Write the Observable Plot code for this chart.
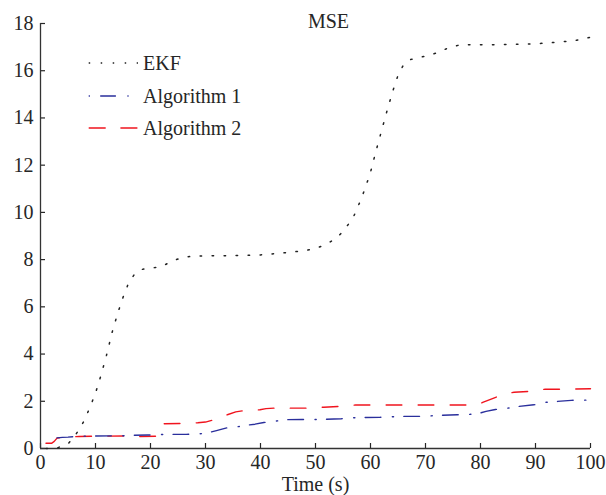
<!DOCTYPE html>
<html><head><meta charset="utf-8">
<script src="https://cdn.jsdelivr.net/npm/d3@7"></script>
<script src="https://cdn.jsdelivr.net/npm/@observablehq/plot@0.6"></script>
<style>
body{margin:0;background:#fff;}
#wrap{position:relative;width:606px;height:495px;}
#wrap svg{position:absolute;left:0;top:0;}
#wrap svg, #wrap svg text{font-family:"Liberation Serif","Times New Roman",serif !important;}
</style></head><body><div id="wrap"></div>
<script>
// ---- data ----
const seriesNames = ["EKF", "Algorithm 1", "Algorithm 2"];
const xTicks = [0, 10, 20, 30, 40, 50, 60, 70, 80, 90, 100];
const yTicks = [0, 2, 4, 6, 8, 10, 12, 14, 16, 18];
const titleText = "MSE";
const xLabel = "Time (s)";

const ekfT = [1,3,5,6,7,8,9,10,11,12,13,14,15,16,17,18,19,20,22,24,26,28,30,35,40,45,48,50,52,54,55,56,57,58,59,60,61,62,63,64,65,66,67,68,70,72,74,76,78,80,85,90,93,95,97.5,100];
const ekfV = [0,0.02,0.2,0.45,0.8,1.2,1.75,2.35,3.1,3.95,4.9,5.7,6.4,7.0,7.35,7.55,7.62,7.64,7.7,7.95,8.1,8.15,8.16,8.17,8.2,8.3,8.38,8.47,8.65,8.95,9.2,9.5,9.86,10.4,11.0,11.7,12.6,13.45,14.3,15.1,15.8,16.25,16.45,16.52,16.62,16.75,16.95,17.08,17.1,17.1,17.11,17.14,17.19,17.23,17.29,17.42];

const alg1T = [3,4,5,6,7,10,15,17,19.5,21.9,23.7,26.5,28.9,30,31,32,33,34,35.8,37.9,39,40.6,42.7,44.7,47.6,50.5,54.7,56.7,58.8,61.7,63.8,66,68.7,70.8,72.9,75.8,77.8,79.9,81,82.7,84.7,86.9,89.7,91.6,93.8,96.5,100];
const alg1V = [0.45,0.47,0.48,0.5,0.52,0.53,0.54,0.56,0.57,0.59,0.6,0.6,0.62,0.65,0.7,0.76,0.82,0.88,0.92,1.0,1.03,1.1,1.16,1.22,1.23,1.23,1.26,1.3,1.31,1.32,1.34,1.36,1.36,1.38,1.41,1.43,1.44,1.5,1.57,1.65,1.7,1.78,1.85,1.95,1.99,2.04,2.05];

const alg2T = [1,2,2.5,3,4,5,6,7,10,15,18,21.2,22.4,25.6,28.6,30,31.3,32.5,34.1,35.5,36.9,38.5,39.9,41,42.6,48.5,51.5,54.2,56,57.3,65,78,79.5,80.4,83.1,84.5,86.1,88.8,90.5,91.8,94.7,100];
const alg2V = [0.22,0.22,0.3,0.44,0.47,0.48,0.5,0.51,0.52,0.53,0.51,0.52,1.05,1.06,1.09,1.12,1.2,1.3,1.44,1.55,1.6,1.62,1.64,1.69,1.71,1.71,1.75,1.78,1.82,1.84,1.84,1.84,1.86,1.95,2.2,2.32,2.38,2.42,2.48,2.51,2.51,2.53];

// ---- styles ----
const FONT = "'Liberation Serif','Times New Roman',serif";
const TXT = "#262626";
const colors = ["#222222", "#2a2f9c", "#f0141e"];
const dashes = ["1.5,10.5", "15.7,11.5,1.2,10.3", "15.7,16.3"];

const toRows = (T, V) => T.map((t, i) => ({t, v: V[i]}));
const ekf = toRows(ekfT, ekfV);
const alg1 = toRows(alg1T, alg1V);
const alg2 = toRows(alg2T, alg2V);

const chart = Plot.plot({
  width: 606, height: 495,
  marginLeft: 40, marginRight: 16, marginTop: 23, marginBottom: 47,
  style: {fontFamily: FONT, fontSize: "20px", color: TXT, background: "white", overflow: "visible"},
  x: {domain: [0, 100]},
  y: {domain: [0, 18]},
  marks: [
    Plot.axisX({ticks: xTicks, tickSize: -5, tickPadding: 11, label: null, fontSize: 20, strokeWidth: 1.2}),
    Plot.axisY({ticks: yTicks, tickSize: -5, tickPadding: 12, label: null, fontSize: 20, strokeWidth: 1.2}),
    Plot.ruleX([0], {stroke: "#333", strokeWidth: 1.3}),
    Plot.ruleY([0], {stroke: "#333", strokeWidth: 1.3}),
    Plot.line(ekf, {x: "t", y: "v", stroke: colors[0], strokeWidth: 1.5, strokeDasharray: dashes[0]}),
    Plot.line(alg2, {x: "t", y: "v", stroke: colors[2], strokeWidth: 1.4, strokeDasharray: dashes[2]}),
    Plot.line(alg1, {x: "t", y: "v", stroke: colors[1], strokeWidth: 1.4, strokeDasharray: dashes[1]}),
    Plot.text([titleText], {text: d => d, frameAnchor: "top", lineAnchor: "bottom", dy: 4, dx: 13, fontSize: 20, fill: TXT}),
    Plot.text([xLabel], {text: d => d, frameAnchor: "bottom", lineAnchor: "bottom", dy: 42, fontSize: 20, fill: TXT})
  ]
});
const wrap = document.getElementById("wrap");
wrap.appendChild(chart);

// ---- legend overlay (inside plot, top-left) ----
const leg = d3.select(wrap).append("svg")
  .attr("width", 606).attr("height", 495)
  .style("pointer-events", "none");
const legY = [63, 96, 128];
const legDash = ["1.5,10.5", "15.7,11.5,1.2,10.3", "17,14.7"];
const legOff = [0, 27.2, 0];
seriesNames.forEach((name, i) => {
  leg.append("line")
    .attr("x1", 88.7).attr("x2", 138).attr("y1", legY[i]).attr("y2", legY[i])
    .attr("stroke", colors[i]).attr("stroke-width", i === 0 ? 1.5 : 1.4)
    .attr("stroke-dasharray", legDash[i]).attr("stroke-dashoffset", legOff[i]);
  leg.append("text")
    .attr("x", 143).attr("y", legY[i] + 7)
    .attr("font-size", 20).attr("fill", TXT)
    .text(name);
});
</script>
</body></html>
